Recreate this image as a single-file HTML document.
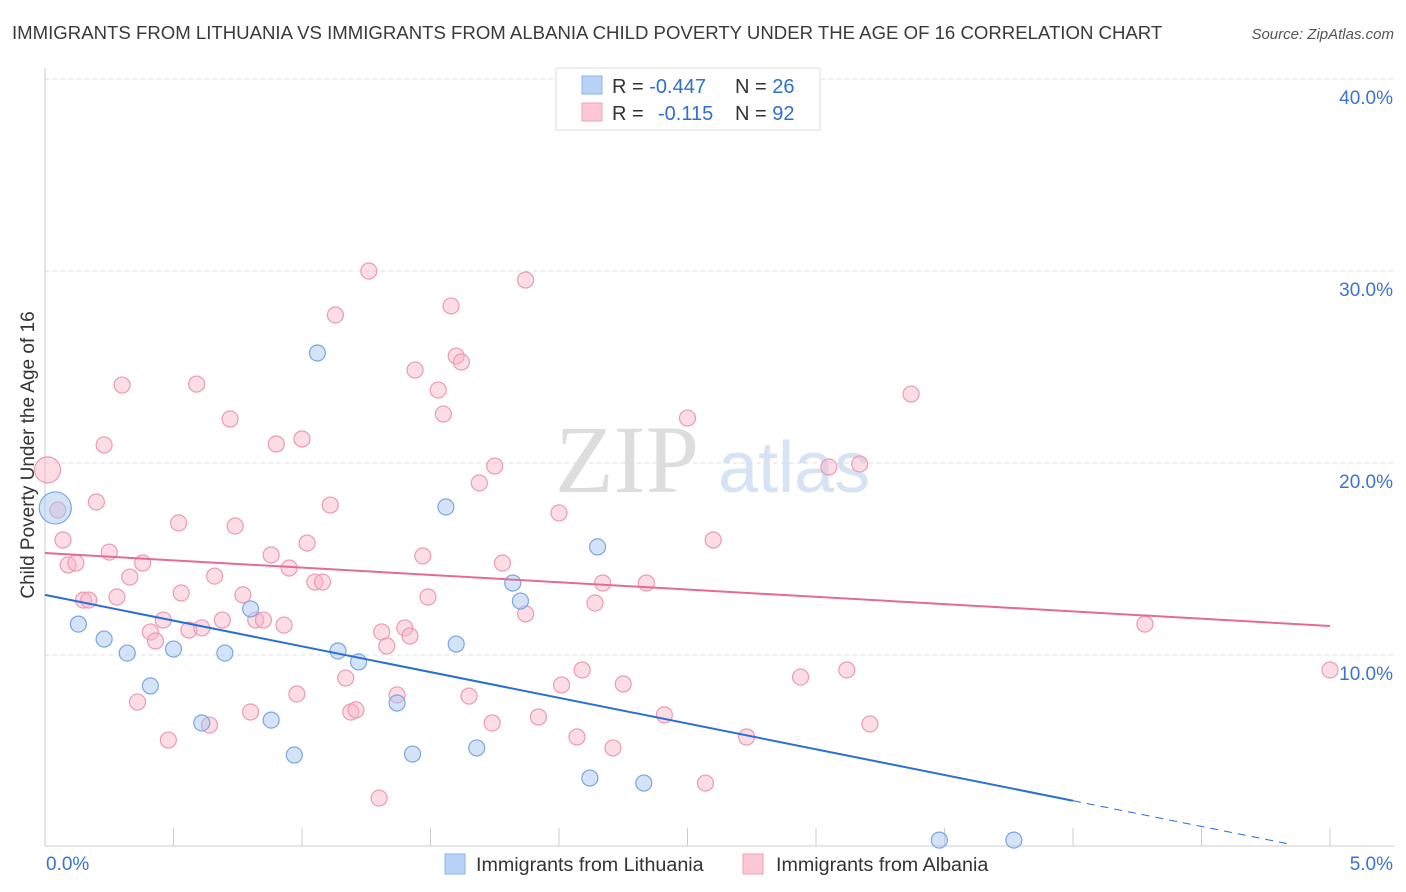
<!DOCTYPE html>
<html><head><meta charset="utf-8">
<style>
body{margin:0;background:#fff;font-family:"Liberation Sans",sans-serif;}
svg{display:block}
</style></head>
<body>
<svg id="chart" width="1406" height="892">
<text x="12" y="39" font-size="18.6" fill="#3a3a3a">IMMIGRANTS FROM LITHUANIA VS IMMIGRANTS FROM ALBANIA CHILD POVERTY UNDER THE AGE OF 16 CORRELATION CHART</text>
<text x="1394" y="39" font-size="15" fill="#555" font-style="italic" text-anchor="end">Source: ZipAtlas.com</text>
<text x="555" y="492" font-size="96" fill="#ddd" font-family="Liberation Serif,serif">ZIP</text>
<text x="718" y="492" font-size="72" fill="#d6e3f5">atlas</text>
<g id="grid"></g>
<g id="axes"></g>
<g id="points"></g>
<g id="lines"></g>
<text x="34" y="455" font-size="19" fill="#333" text-anchor="middle" transform="rotate(-90 34 455)">Child Poverty Under the Age of 16</text>
<g>
<rect x="556" y="68" width="264" height="62" fill="#fff" stroke="#ddd"/>
<rect x="582" y="76" width="20" height="18" fill="#b8d3f5" stroke="#8ab4ea"/>
<rect x="582" y="103" width="20" height="18" fill="#fcc8d6" stroke="#f0a0b8"/>
<text x="612" y="93" font-size="20" fill="#333">R = <tspan fill="#2f6fd0">-0.447</tspan><tspan x="735">N = </tspan><tspan fill="#2f6fd0">26</tspan></text>
<text x="612" y="120" font-size="20" fill="#333">R = <tspan x="658" fill="#2f6fd0">-0.115</tspan><tspan x="735">N = </tspan><tspan fill="#2f6fd0">92</tspan></text>
</g>
<g>
<rect x="445" y="854" width="20" height="20" fill="#b8d3f5" stroke="#8ab4ea"/>
<text x="476" y="871" font-size="19.7" fill="#333">Immigrants from Lithuania</text>
<rect x="743" y="854" width="20" height="20" fill="#fcc8d6" stroke="#f0a0b8"/>
<text x="776" y="871" font-size="19.7" fill="#333">Immigrants from Albania</text>
</g>
</svg>
<script>
const yTicks=[10,20,30,40];
const yTickLabels=["10.0%","20.0%","30.0%","40.0%"];
const xTickLabels=["0.0%","5.0%"];
const lithX=[0.04,0.13,0.23,0.32,0.41,0.50,0.61,0.70,0.80,0.88,0.97,1.06,1.14,1.22,1.37,1.43,1.56,1.60,1.68,1.82,1.85,2.12,2.15,2.33,3.48,3.77];
const lithY=[17.66,11.61,10.83,10.10,8.39,10.31,6.46,10.10,12.40,6.61,4.79,25.73,10.21,9.64,7.50,4.84,17.71,10.57,5.16,13.75,12.81,3.59,15.63,3.33,0.36,0.36];
const albX=[0.01,0.05,0.07,0.09,0.12,0.15,0.17,0.20,0.23,0.25,0.28,0.30,0.33,0.38,0.36,0.41,0.43,0.46,0.48,0.52,0.53,0.56,0.59,0.61,0.64,0.66,0.69,0.72,0.74,0.77,0.80,0.82,0.85,0.88,0.90,0.93,0.95,0.98,1.00,1.02,1.05,1.08,1.11,1.13,1.17,1.19,1.21,1.26,1.30,1.31,1.33,1.37,1.40,1.42,1.44,1.47,1.49,1.53,1.55,1.58,1.60,1.62,1.65,1.69,1.74,1.75,1.78,1.87,1.87,1.92,2.00,2.01,2.07,2.09,2.14,2.17,2.21,2.25,2.34,2.41,2.50,2.57,2.60,2.73,2.94,3.05,3.12,3.17,3.21,3.37,4.28,5.00];
const albY=[19.64,17.55,15.99,14.69,14.79,12.86,12.86,17.97,20.94,15.36,13.02,24.06,14.06,14.79,7.55,11.20,10.73,11.82,5.57,16.88,13.23,11.30,24.11,11.41,6.35,14.11,11.82,22.29,16.72,13.13,7.03,11.82,11.82,15.21,20.99,11.56,14.53,7.97,21.25,15.83,13.80,13.80,17.81,27.71,8.80,7.03,7.14,30.00,2.55,11.20,10.47,7.92,11.41,10.99,24.84,15.16,13.02,23.80,22.55,28.18,25.57,25.26,7.86,18.96,6.46,19.84,14.79,29.53,12.14,6.77,17.40,8.44,5.73,9.22,12.71,13.75,5.16,8.49,13.75,6.88,22.34,3.33,15.99,5.73,8.85,19.79,9.22,19.95,6.41,23.59,11.61,9.22];
const lithTrend=[13.13,-2.68];
const albTrend=[15.31,-0.76];
const NS="http://www.w3.org/2000/svg";
const X=v=>45+v*257;
const Y=v=>847-v*19.2;
function mk(t,a,p){const e=document.createElementNS(NS,t);for(const k in a)e.setAttribute(k,a[k]);document.getElementById(p).appendChild(e);return e;}
yTicks.forEach((t,i)=>{
 const g=mk('line',{x1:45,x2:1394,y1:Y(t),y2:Y(t),stroke:'#ddd','stroke-dasharray':'4,4'},'grid');
 
 
 const l=mk('text',{x:1393,y:Y(t)+25,'font-size':19,fill:'#3a74d0','text-anchor':'end'},'axes');
 l.textContent=yTickLabels[i];
 
 
});
const ax=mk('line',{x1:45,x2:1394,y1:846,y2:846,stroke:'#ccc'},'axes');


const ay=mk('line',{x1:45,x2:45,y1:68,y2:846,stroke:'#ccc'},'axes');


for(let i=0;i<=10;i++){
 const t=mk('line',{x1:X(i*0.5),x2:X(i*0.5),y1:828,y2:846,stroke:'#ccc'},'axes');
 
 
}
[[0,46,'start'],[5,1393,'end']].forEach((d,i)=>{
 const l=mk('text',{x:d[1],y:870,'font-size':19,fill:'#3a74d0','text-anchor':d[2]},'axes');
 l.textContent=xTickLabels[i];
 
 
});
albX.forEach((x,i)=>{
 const c=mk('circle',{cx:X(x),cy:Y(albY[i]),r:i==0?13:8,fill:'rgba(248,180,200,0.45)',stroke:'#ec9ab2','stroke-width':1.2},'points');
 
 
});
lithX.forEach((x,i)=>{
 const c=mk('circle',{cx:X(x),cy:Y(lithY[i]),r:i==0?16:8,fill:'rgba(170,200,240,0.5)',stroke:'#7aa6e0','stroke-width':1.2},'points');
 
 
});
const f=(t,x)=>t[0]+t[1]*x;
const l1=mk('line',{x1:X(0),y1:Y(f(lithTrend,0)),x2:X(4),y2:Y(f(lithTrend,4)),stroke:'#2a6fd6','stroke-width':2},'lines');


const l2=mk('line',{x1:X(4),y1:Y(f(lithTrend,4)),x2:X(4.85),y2:Y(f(lithTrend,4.85)),stroke:'#2a6fd6','stroke-width':1,'stroke-dasharray':'8,6'},'lines');


const l3=mk('line',{x1:X(0),y1:Y(f(albTrend,0)),x2:X(5),y2:Y(f(albTrend,5)),stroke:'#e56a96','stroke-width':2},'lines');


</script>
</body></html>
